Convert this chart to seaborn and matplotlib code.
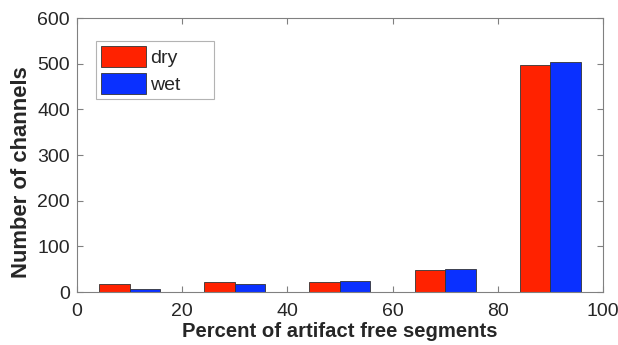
import matplotlib
matplotlib.use("Agg")
import matplotlib.pyplot as plt
import seaborn as sns
import pandas as pd

# Histogram bin centres (percent of artifact-free segments) and channel counts
bin_centers = [10, 30, 50, 70, 90]
dry_counts = [17, 21, 23, 49, 497]
wet_counts = [6, 17, 24, 51, 503]
conditions = ["dry", "wet"]
colors = {"dry": "#ff2200", "wet": "#0a30ff"}

df = pd.DataFrame({
    "center": bin_centers * 2,
    "count": dry_counts + wet_counts,
    "cond": [conditions[0]] * len(bin_centers) + [conditions[1]] * len(bin_centers),
})

sns.set_style("white")
plt.rcParams["font.family"] = ["Liberation Sans", "DejaVu Sans"]

fig = plt.figure(figsize=(6.18, 3.45), dpi=100)
ax = fig.add_axes([0.1246, 0.1536, 0.851, 0.7942])

sns.barplot(data=df, x="center", y="count", hue="cond", hue_order=conditions,
            native_scale=True, width=0.58, palette=colors, ax=ax,
            edgecolor="#333333", linewidth=0.6, saturation=1, errorbar=None)

ax.set_xlim(0, 100)
ax.set_ylim(0, 600)
ax.set_xticks([0, 20, 40, 60, 80, 100])
ax.set_yticks([0, 100, 200, 300, 400, 500, 600])

axis_gray = "#808080"
text_col = "#262626"
for s in ax.spines.values():
    s.set_visible(True)
    s.set_color(axis_gray)
    s.set_linewidth(0.8)
ax.tick_params(direction="in", length=4, width=0.8, color=axis_gray,
               labelsize=14, labelcolor=text_col, top=True, right=True,
               bottom=True, left=True)
ax.tick_params(axis="x", pad=8)
ax.tick_params(axis="y", pad=5)

ax.set_xlabel("Percent of artifact free segments", fontsize=14.6, fontweight="bold",
              color=text_col, labelpad=1)
ax.set_ylabel("Number of channels", fontsize=15.8, fontweight="bold",
              color=text_col)
ax.yaxis.set_label_coords(-0.086, 0.438)

leg = ax.legend(loc="upper left", bbox_to_anchor=(0.036, 0.69, 0.224, 0.226),
                mode="expand", fontsize=14,
                handlelength=2.3, handleheight=1.3, handletextpad=0.25,
                labelspacing=0.3, borderpad=0.25, borderaxespad=0,
                fancybox=False, frameon=True, title=None)
leg.get_frame().set_edgecolor("#a0a0a0")
leg.get_frame().set_linewidth(0.8)
for t in leg.get_texts():
    t.set_color(text_col)

fig.savefig("out.png", dpi=100)
